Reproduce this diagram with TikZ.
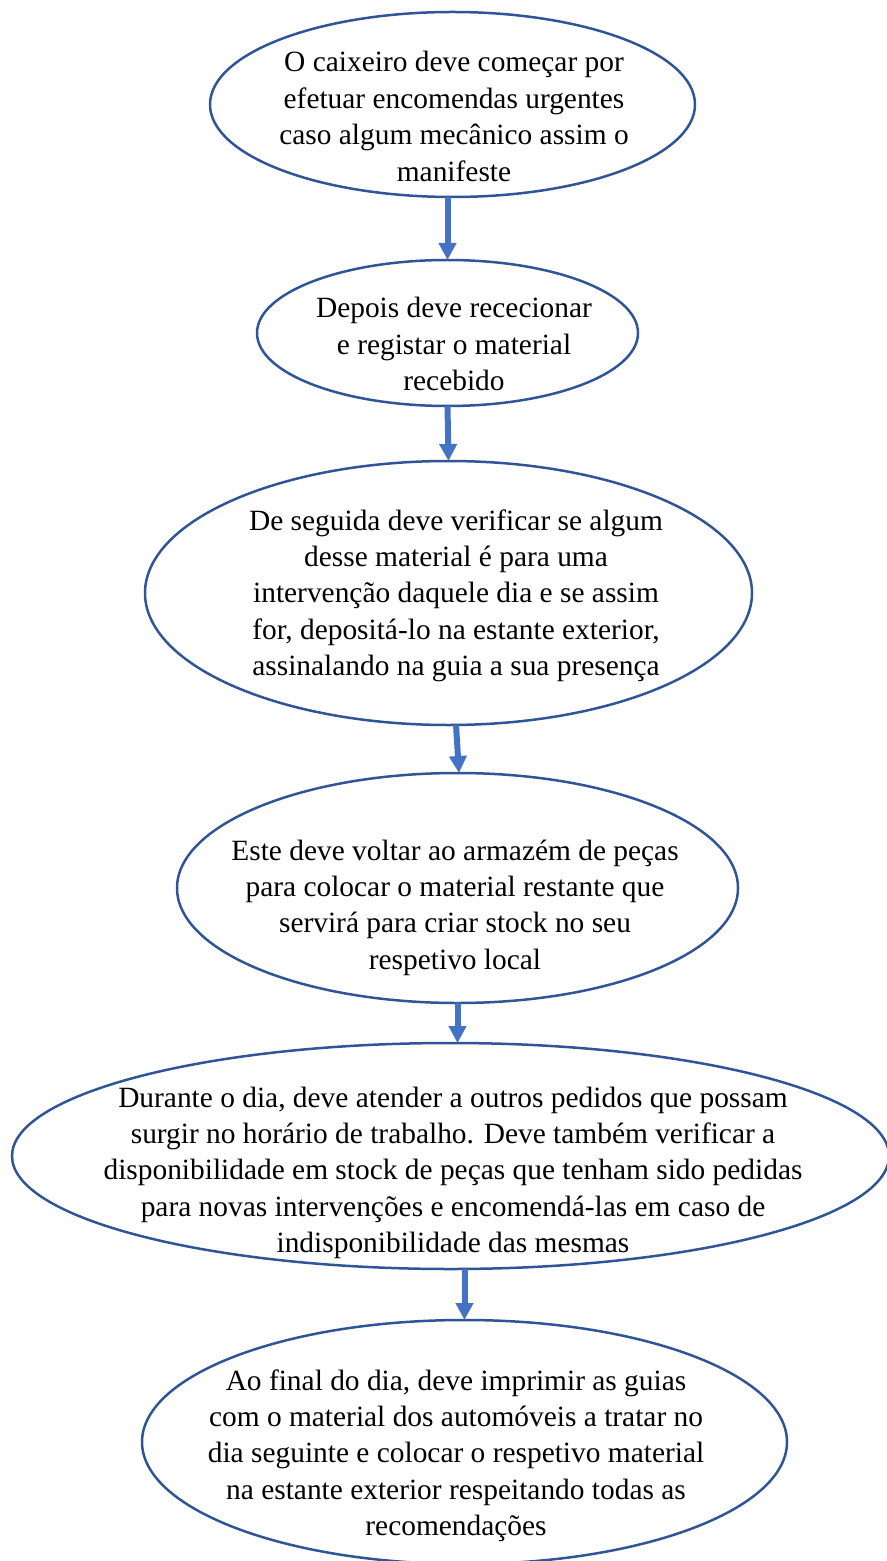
\documentclass[tikz,border=0pt]{standalone}
\usepackage{fontspec}
\setmainfont{Liberation Serif}
\usetikzlibrary{shapes.geometric,arrows.meta}
\definecolor{ringblue}{HTML}{2F5597}
\definecolor{arrowblue}{HTML}{4472C4}
\tikzset{
  stage/.style={ellipse, draw=ringblue, line width=1.25pt, inner sep=0pt, outer sep=0pt},
  label/.style={anchor=base, inner sep=0pt, font=\fontsize{14.7}{18.2}\selectfont},
  flow/.style={draw=arrowblue, line width=3pt, -{Triangle[width=8.5pt,length=8.5pt,fill=arrowblue]}}
}
\newcommand{\lines}[1]{\begin{tabular}[t]{@{}c@{}}#1\end{tabular}}
\begin{document}
\begin{tikzpicture}[x=0.5pt,y=-0.5pt]
\useasboundingbox (0,0) rectangle (887,1561);

% the six stages
\node[stage, minimum width=242.5pt, minimum height=92.5pt] (e1) at (452.5,104.5) {};
\node[stage, minimum width=190.5pt, minimum height=73pt]   (e2) at (447.5,333) {};
\node[stage, minimum width=303.5pt, minimum height=132pt]  (e3) at (448.5,593) {};
\node[stage, minimum width=280.5pt, minimum height=115pt]  (e4) at (457.5,888) {};
\node[stage, minimum width=438.5pt, minimum height=113pt]  (e5) at (450.5,1156) {};
\node[stage, minimum width=322.5pt, minimum height=122pt]  (e6) at (464.5,1442) {};

% texts
\node[label] (t1) at (454,72) {\lines{O caixeiro deve começar por\\efetuar encomendas urgentes\\caso algum mecânico assim o\\manifeste}};
\node[label] (t2) at (454,318) {\lines{Depois deve rececionar\\e registar o material\\recebido}};
\node[label] (t3) at (456,530) {\lines{De seguida deve verificar se algum\\desse material é para uma\\intervenção daquele dia e se assim\\for, depositá-lo na estante exterior,\\assinalando na guia a sua presença}};
\node[label] (t4) at (455,860) {\lines{Este deve voltar ao armazém de peças\\para colocar o material restante que\\servirá para criar stock no seu\\respetivo local}};
\node[label] (t5) at (453,1107) {\lines{Durante o dia, deve atender a outros pedidos que possam\\surgir no horário de trabalho. Deve também verificar a\\disponibilidade em stock de peças que tenham sido pedidas\\para novas intervenções e encomendá-las em caso de\\indisponibilidade das mesmas}};
\node[label] (t6) at (456,1390) {\lines{Ao final do dia, deve imprimir as guias\\com o material dos automóveis a tratar no\\dia seguinte e colocar o respetivo material\\na estante exterior respeitando todas as\\recomendações}};

% connectors
\draw[flow] (e1.south -| e2.north) -- (e2.north);
\draw[flow] (e2.south) -- (e3.north);
\draw[flow] ([xshift=3.75pt]e3.south) -- ([xshift=0.75pt]e4.north);
\draw[flow] (e4.south) -- (e4.south |- e5.north);
\draw[flow] (e6.north |- e5.south) -- (e6.north);
\end{tikzpicture}
\end{document}
